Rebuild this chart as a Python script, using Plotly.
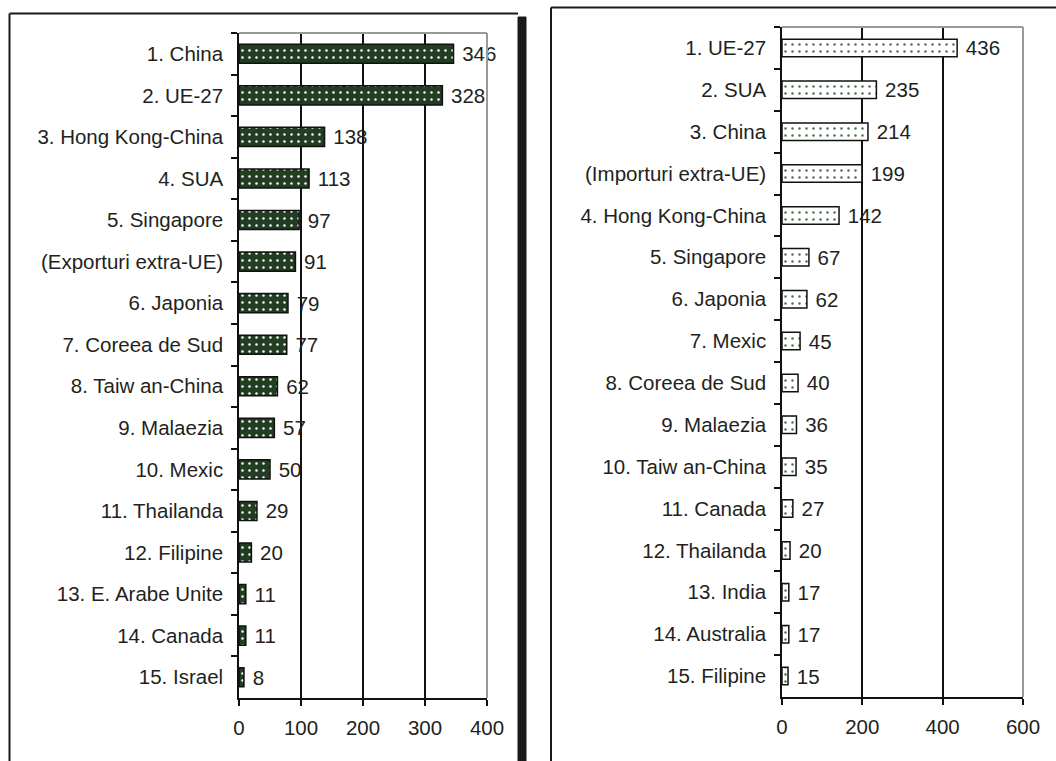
import plotly.graph_objects as go

# Left panel: exports
exp_labels = ["1. China", "2. UE-27", "3. Hong Kong-China", "4. SUA", "5. Singapore",
              "(Exporturi extra-UE)", "6. Japonia", "7. Coreea de Sud", "8. Taiw an-China",
              "9. Malaezia", "10. Mexic", "11. Thailanda", "12. Filipine",
              "13. E. Arabe Unite", "14. Canada", "15. Israel"]
exp_values = [346, 328, 138, 113, 97, 91, 79, 77, 62, 57, 50, 29, 20, 11, 11, 8]
exp_ticks = [0, 100, 200, 300, 400]

# Right panel: imports
imp_labels = ["1. UE-27", "2. SUA", "3. China", "(Importuri extra-UE)", "4. Hong Kong-China",
              "5. Singapore", "6. Japonia", "7. Mexic", "8. Coreea de Sud", "9. Malaezia",
              "10. Taiw an-China", "11. Canada", "12. Thailanda", "13. India",
              "14. Australia", "15. Filipine"]
imp_values = [436, 235, 214, 199, 142, 67, 62, 45, 40, 36, 35, 27, 20, 17, 17, 15]
imp_ticks = [0, 200, 400, 600]

W, H = 1056, 761
FONT = "Liberation Sans, Arial, sans-serif"
INK = "#231f20"
FS = 20.5


def px(x):
    return x / W


def py(y):
    return 1 - y / H


fig = go.Figure()

fig.add_trace(go.Bar(
    x=exp_values, y=exp_labels, orientation="h", xaxis="x", yaxis="y",
    width=0.46,
    marker=dict(color="#233d23", line=dict(color="#111", width=1.5),
                pattern=dict(shape=".", bgcolor="#233d23", fgcolor="#ffffff",
                             size=7, solidity=0.1, fillmode="replace")),
    text=[f" {v}" for v in exp_values], textposition="outside",
    textfont=dict(family=FONT, size=FS, color=INK),
    cliponaxis=False, constraintext="none", showlegend=False,
))

fig.add_trace(go.Bar(
    x=imp_values, y=imp_labels, orientation="h", xaxis="x2", yaxis="y2",
    width=0.42,
    marker=dict(color="#ffffff", line=dict(color="#111", width=1.5),
                pattern=dict(shape=".", bgcolor="#ffffff", fgcolor="#4f704f",
                             size=7, solidity=0.1, fillmode="replace")),
    text=[f" {v}" for v in imp_values], textposition="outside",
    textfont=dict(family=FONT, size=FS, color=INK),
    cliponaxis=False, constraintext="none", showlegend=False,
))

common_x = dict(showgrid=True, gridcolor="#111", gridwidth=1.5, zeroline=False,
                showline=True, linecolor="#111", linewidth=1.5,
                ticks="outside", ticklen=6, tickcolor="#111", tickwidth=1.5,
                tickfont=dict(family=FONT, size=FS, color=INK), automargin=False,
                ticklabelstandoff=5)
common_y = dict(type="category", autorange="reversed", showgrid=False, zeroline=False,
                showline=True, linecolor="#111", linewidth=1.5,
                ticks="outside", tickson="boundaries", ticklen=6, tickcolor="#111",
                tickwidth=1.5, tickfont=dict(family=FONT, size=FS, color=INK),
                automargin=False, ticklabelstandoff=10)

fig.update_layout(
    width=W, height=H, margin=dict(l=0, r=0, t=0, b=0),
    paper_bgcolor="white", plot_bgcolor="rgba(0,0,0,0)",
    xaxis=dict(common_x, domain=[px(239), px(487)], range=[0, 400],
               tickvals=exp_ticks, anchor="y"),
    yaxis=dict(common_y, domain=[py(698), py(33)], anchor="x",
               categoryorder="array", categoryarray=exp_labels),
    xaxis2=dict(common_x, domain=[px(782), px(1023)], range=[0, 600],
                tickvals=imp_ticks, anchor="y2"),
    yaxis2=dict(common_y, domain=[py(697), py(27)], anchor="x2",
                categoryorder="array", categoryarray=imp_labels),
)

shapes = []
# grey plot frame on top and right of each plot area
for xr, yr in (("x", "y"), ("x2", "y2")):
    shapes.append(dict(type="line", xref=f"{xr} domain", yref=f"{yr} domain",
                       x0=0, x1=1, y0=1, y1=1, line=dict(color="#9a9a9a", width=2),
                       layer="above"))
    shapes.append(dict(type="line", xref=f"{xr} domain", yref=f"{yr} domain",
                       x0=1, x1=1, y0=0, y1=1, line=dict(color="#9a9a9a", width=2),
                       layer="above"))

# panel frames (left panel with a heavy shadow edge on the right)
frame = dict(color="#1a1a1a", width=2)
shapes += [
    dict(type="line", xref="paper", yref="paper",
         x0=px(9.5), x1=px(9.5), y0=0, y1=py(13.5), line=frame),
    dict(type="line", xref="paper", yref="paper",
         x0=px(9.5), x1=px(518), y0=py(13.5), y1=py(13.5), line=frame),
    dict(type="rect", xref="paper", yref="paper",
         x0=px(518), x1=px(526), y0=0, y1=py(17),
         line=dict(color="#1a1a1a", width=1), fillcolor="#1a1a1a"),
    dict(type="line", xref="paper", yref="paper",
         x0=px(551), x1=px(551), y0=0, y1=py(7.5), line=frame),
    dict(type="line", xref="paper", yref="paper",
         x0=px(551), x1=1, y0=py(7.5), y1=py(7.5), line=frame),
]
fig.update_layout(shapes=shapes)

fig.write_html("out.html")
